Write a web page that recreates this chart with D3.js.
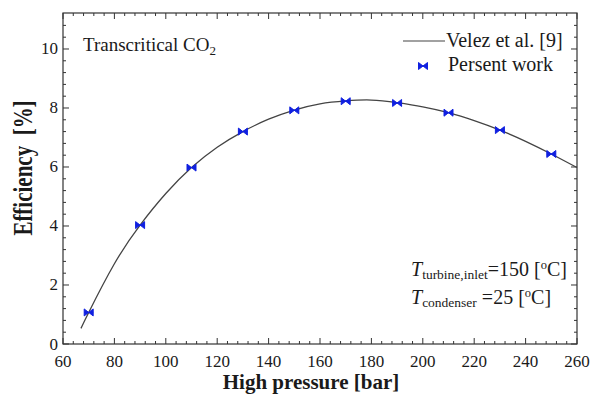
<!DOCTYPE html>
<html>
<head>
<meta charset="utf-8">
<script src="https://cdn.jsdelivr.net/npm/d3@7"></script>
<style>
  html, body { margin: 0; padding: 0; background: #fff; }
</style>
</head>
<body>
<svg id="chart" width="590" height="397"></svg>
<script>
// Reference correlation (Velez et al.) — efficiency vs high pressure
const curvePressure = [67, 70, 80, 90, 100, 110, 120, 130, 140, 150, 160, 170, 180, 190, 200, 210, 220, 230, 240, 250, 260];
const curveEfficiency = [0.53, 1.07, 2.72, 4.03, 5.1, 5.98, 6.67, 7.2, 7.62, 7.93, 8.14, 8.24, 8.27, 8.18, 8.04, 7.84, 7.57, 7.25, 6.87, 6.44, 5.98];

// Present work — computed points
const pointPressure = [70, 90, 110, 130, 150, 170, 190, 210, 230, 250];
const pointEfficiency = [1.07, 4.03, 5.98, 7.2, 7.92, 8.23, 8.17, 7.84, 7.25, 6.44];

const xTicks = [60, 80, 100, 120, 140, 160, 180, 200, 220, 240, 260];
const yTicks = [0, 2, 4, 6, 8, 10];

const FONT = '"Liberation Serif"';
const svg = d3.select("#chart");
const L = 63, R = 577, T = 13, B = 344;

const x = d3.scaleLinear().domain([60, 260]).range([L, R]);
const y = d3.scaleLinear().domain([0, 11.22]).range([B, T]);

const axisColor = "#333";
const textColor = "#1a1a1a";

// helper: text element in the serif face
function txt(parent) {
  return parent.append("text").style("font-family", FONT).attr("fill", textColor);
}

// Frame
svg.append("rect")
  .attr("x", L).attr("y", T).attr("width", R - L).attr("height", B - T)
  .attr("fill", "none").attr("stroke", axisColor).attr("stroke-width", 1.2);

// Minor ticks: 4 per major interval
const xMinor = d3.range(60, 260.001, 4).filter(v => !xTicks.includes(Math.round(v)));
const yMinor = d3.range(0, 11.2, 0.4).filter(v => Math.abs(v / 2 - Math.round(v / 2)) > 0.01);

const ticks = svg.append("g").attr("stroke", axisColor).attr("stroke-width", 1);
function xTickMarks(vals, len) {
  vals.forEach(v => {
    ticks.append("line").attr("x1", x(v)).attr("x2", x(v)).attr("y1", B).attr("y2", B - len);
    ticks.append("line").attr("x1", x(v)).attr("x2", x(v)).attr("y1", T).attr("y2", T + len);
  });
}
function yTickMarks(vals, len) {
  vals.forEach(v => {
    ticks.append("line").attr("y1", y(v)).attr("y2", y(v)).attr("x1", L).attr("x2", L + len);
    ticks.append("line").attr("y1", y(v)).attr("y2", y(v)).attr("x1", R).attr("x2", R - len);
  });
}
xTickMarks(xTicks, 6);
xTickMarks(xMinor, 3);
yTickMarks(yTicks, 6);
yTickMarks(yMinor, 3);

// Tick labels
svg.append("g").selectAll("text").data(xTicks).join("text")
  .style("font-family", FONT)
  .attr("x", d => x(d)).attr("y", 367)
  .attr("text-anchor", "middle").attr("font-size", 17).attr("fill", textColor)
  .text(d => d);
svg.append("g").selectAll("text").data(yTicks).join("text")
  .style("font-family", FONT)
  .attr("x", L - 5).attr("y", d => y(d) + 5.5)
  .attr("text-anchor", "end").attr("font-size", 17).attr("fill", textColor)
  .text(d => d);

// Axis titles
txt(svg)
  .attr("x", 311).attr("y", 389)
  .attr("text-anchor", "middle").attr("font-size", 21).attr("font-weight", "bold")
  .text("High pressure [bar]");
txt(svg)
  .attr("transform", "translate(32, 168) rotate(-90) scale(1, 1.3)")
  .attr("text-anchor", "middle").attr("font-size", 21).attr("font-weight", "bold")
  .attr("xml:space", "preserve")
  .text("Efficiency  [%]");

// Correlation curve
const line = d3.line()
  .x((d, i) => x(curvePressure[i]))
  .y(d => y(d))
  .curve(d3.curveNatural);
svg.append("path")
  .attr("d", line(curveEfficiency))
  .attr("fill", "none").attr("stroke", "#444").attr("stroke-width", 1.3);

// Bowtie marker
const bowtie = "M-4.5,-3.5L0,0L-4.5,3.5ZM4.5,-3.5L0,0L4.5,3.5ZM-4.5,0H4.5";
svg.append("g").selectAll("path").data(pointEfficiency).join("path")
  .attr("transform", (d, i) => `translate(${x(pointPressure[i])},${y(d)})`)
  .attr("d", bowtie)
  .attr("fill", "#1020e0").attr("stroke", "#1020e0").attr("stroke-width", 1);

// Legend
svg.append("line").attr("x1", 403).attr("x2", 445).attr("y1", 41).attr("y2", 41)
  .attr("stroke", "#444").attr("stroke-width", 1.2);
txt(svg).attr("x", 446).attr("y", 47).attr("font-size", 20)
  .text("Velez et al. [9]");
svg.append("path").attr("transform", "translate(423,66)").attr("d", bowtie)
  .attr("fill", "#1020e0").attr("stroke", "#1020e0").attr("stroke-width", 1);
txt(svg).attr("x", 448).attr("y", 71).attr("font-size", 20)
  .text("Persent work");

// Case label
const title = txt(svg).attr("x", 83).attr("y", 51).attr("font-size", 19);
title.append("tspan").text("Transcritical CO");
title.append("tspan").attr("font-size", 13).attr("dy", 4).text("2");

// Operating conditions
const t1 = txt(svg).attr("x", 411).attr("y", 276).attr("font-size", 20);
t1.append("tspan").attr("font-style", "italic").text("T");
t1.append("tspan").attr("font-size", 13.5).attr("dy", 3).text("turbine,inlet");
t1.append("tspan").attr("dy", -3).text("=150 [");
t1.append("tspan").attr("font-size", 12.5).attr("dy", -7).text("o");
t1.append("tspan").attr("dy", 7).text("C]");

const t2 = txt(svg).attr("x", 411).attr("y", 304).attr("font-size", 20);
t2.append("tspan").attr("font-style", "italic").text("T");
t2.append("tspan").attr("font-size", 13.5).attr("dy", 3).text("condenser");
t2.append("tspan").attr("dy", -3).attr("xml:space", "preserve").text(" =25 [");
t2.append("tspan").attr("font-size", 12.5).attr("dy", -7).text("o");
t2.append("tspan").attr("dy", 7).text("C]");
</script>
</body>
</html>
